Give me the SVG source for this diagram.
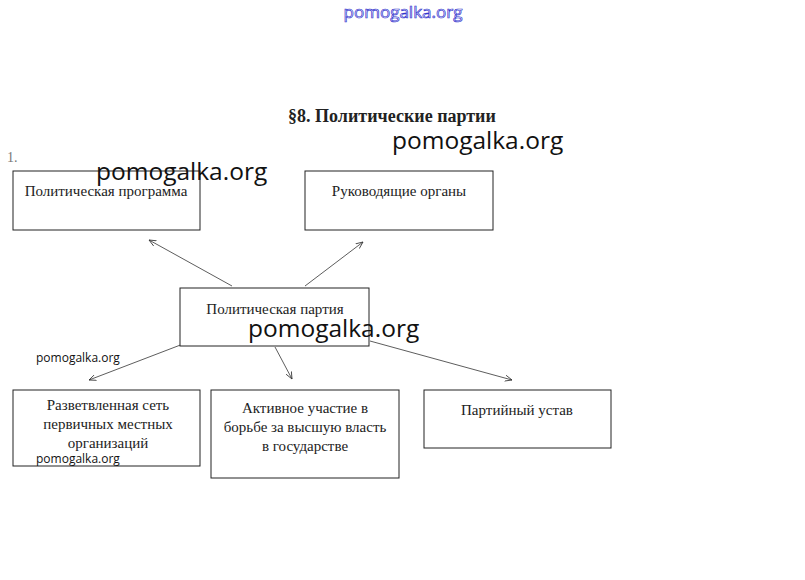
<svg xmlns="http://www.w3.org/2000/svg" width="805" height="580" viewBox="0 0 805 580">
<style>
.box{fill:#fff;stroke:#222;stroke-width:1}
.t{font-family:"Liberation Serif",serif;font-size:15px;fill:#222;text-anchor:middle}
.wm{font-family:"Open Sans","Noto Sans",sans-serif;fill:#111}
.c{stroke:#333;stroke-width:0.8;fill:none;marker-end:url(#ah)}
</style>
<defs>
<marker id="ah" markerWidth="8" markerHeight="8" refX="7" refY="4" orient="auto" markerUnits="userSpaceOnUse">
<path d="M0,1 L7,4 L0,7" fill="none" stroke="#333" stroke-width="0.8"/>
</marker>
</defs>
<rect width="805" height="580" fill="#fff"/>
<text x="403" y="18" text-anchor="middle" font-family="'Open Sans','Noto Sans',sans-serif" font-size="17" fill="#eef" stroke="#3333cc" stroke-width="0.7">pomogalka.org</text>
<text x="392" y="122" text-anchor="middle" font-family="'Liberation Serif',serif" font-size="18" font-weight="bold" fill="#222">§8. Политические партии</text>
<text x="7" y="162" font-family="'Liberation Serif',serif" font-size="14" fill="#777">1.</text>
<g id="connectors">
<line class="c" x1="232" y1="286" x2="149" y2="240"/>
<line class="c" x1="305" y1="286" x2="363" y2="242"/>
<line class="c" x1="183" y1="344" x2="89" y2="380"/>
<line class="c" x1="275" y1="347" x2="292" y2="379"/>
<line class="c" x1="370" y1="341" x2="512" y2="380"/>
</g>
<g id="n1"><rect class="box" x="13" y="171" width="187" height="59"/><text class="t" x="106" y="196">Политическая программа</text></g>
<g id="n2"><rect class="box" x="305" y="171" width="188" height="59"/><text class="t" x="399" y="196">Руководящие органы</text></g>
<g id="n3"><rect class="box" x="180" y="288" width="189" height="58" stroke="#555"/><text class="t" x="275" y="314" fill="#777">Политическая партия</text></g>
<g id="n4"><rect class="box" x="13" y="390" width="187" height="76"/><text class="t" x="108" y="410">Разветвленная сеть</text><text class="t" x="108" y="429">первичных местных</text><text class="t" x="108" y="448">организаций</text></g>
<g id="n5"><rect class="box" x="211" y="390" width="188" height="88"/><text class="t" x="305" y="413">Активное участие в</text><text class="t" x="305" y="432">борьбе за высшую власть</text><text class="t" x="305" y="451">в государстве</text></g>
<g id="n6"><rect class="box" x="424" y="390" width="187" height="58"/><text class="t" x="517" y="415">Партийный устав</text></g>
<text class="wm" x="392" y="149" font-size="24.5">pomogalka.org</text>
<text class="wm" x="96" y="180" font-size="24.5">pomogalka.org</text>
<text class="wm" x="248" y="337" font-size="24.5">pomogalka.org</text>
<text class="wm" x="36" y="362" font-size="12">pomogalka.org</text>
<text class="wm" x="36" y="463" font-size="12">pomogalka.org</text>
</svg>
